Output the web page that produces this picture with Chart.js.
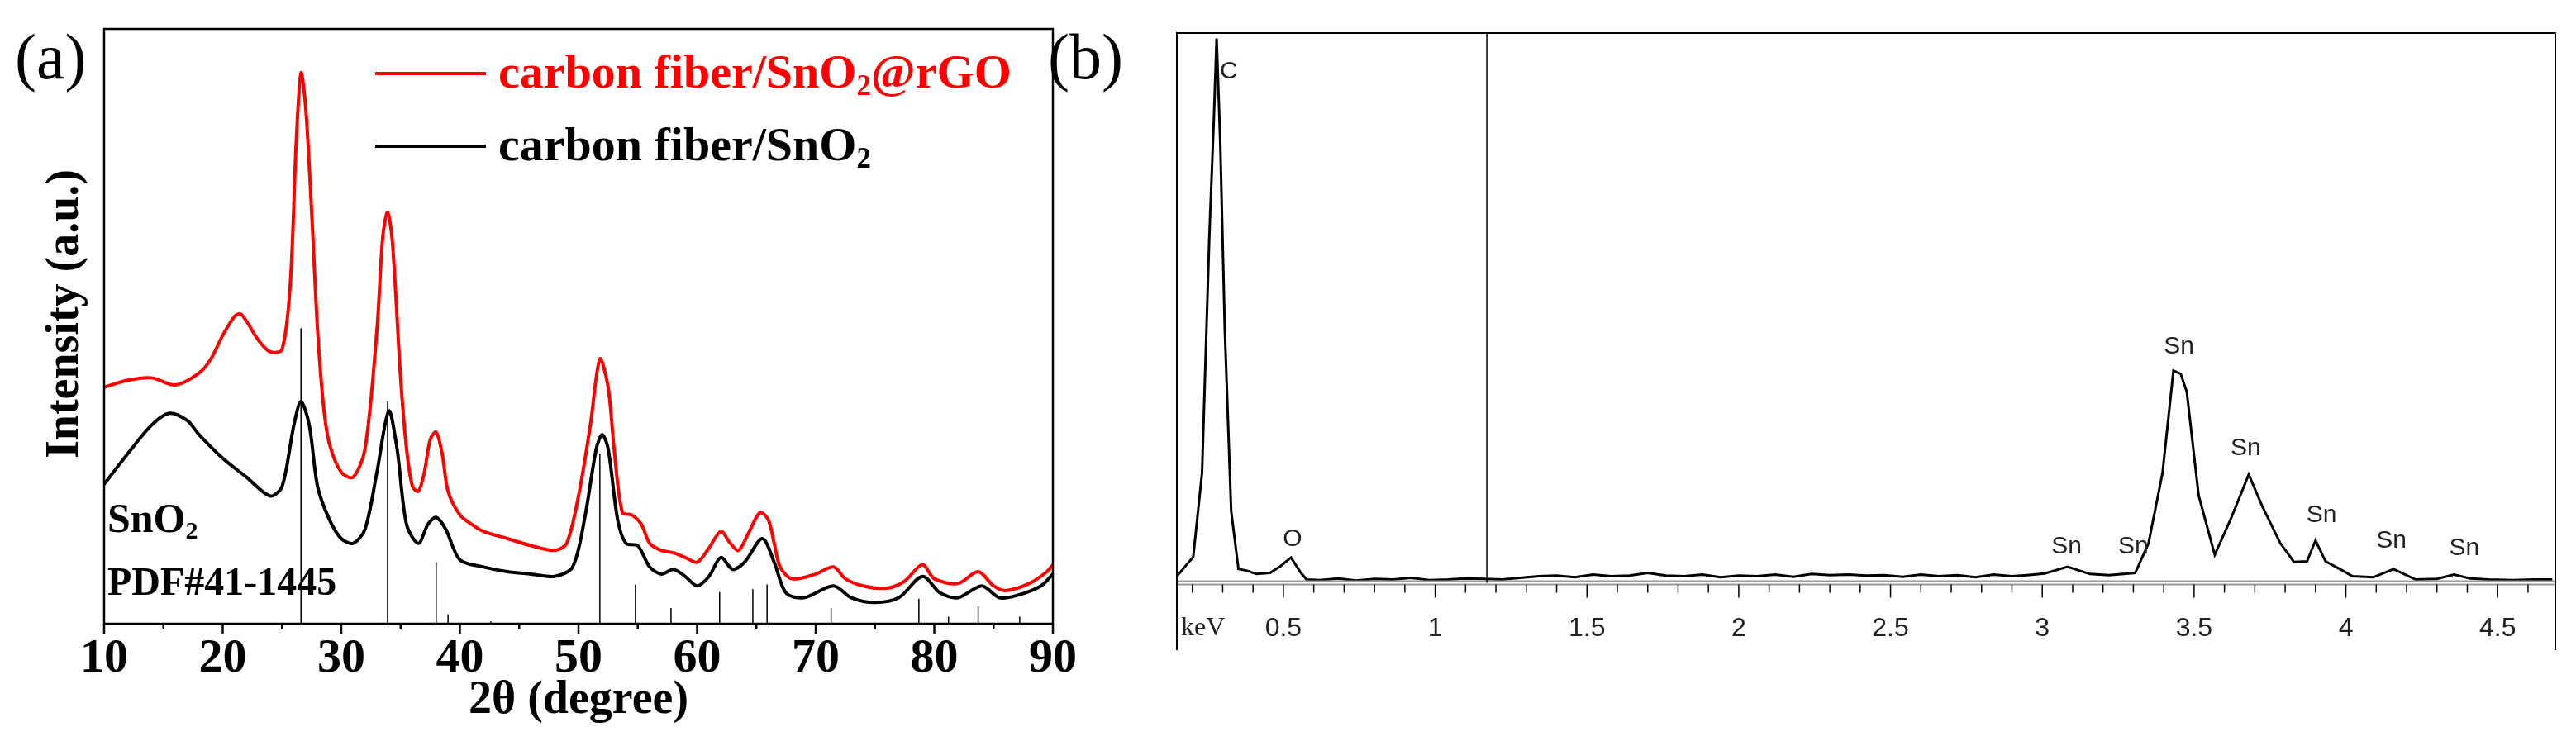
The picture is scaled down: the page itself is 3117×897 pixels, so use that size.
<!DOCTYPE html>
<html><head><meta charset="utf-8">
<script src="https://cdn.jsdelivr.net/npm/chart.js@4/dist/chart.umd.min.js"></script>
<style>
body{margin:0;width:3117px;height:897px;background:#fff;position:relative;overflow:hidden;font-family:"Liberation Serif",serif}
.c{position:absolute;top:0}
.t{position:absolute;white-space:nowrap;font-family:"Liberation Serif",serif;font-weight:bold;line-height:1}
.t sub{font-size:0.6em;vertical-align:-0.25em}
.l{position:absolute;height:4px;left:454px;width:134px}
</style></head><body>
<div class="c" style="left:0;width:1310px;height:897px"><canvas id="ca"></canvas></div>
<div class="c" style="left:1400px;width:1717px;height:897px"><canvas id="cb"></canvas></div>
<div class="t" style="left:18px;top:30px;font-size:78px;font-weight:normal">(a)</div>
<div class="t" style="left:1268px;top:30px;font-size:78px;font-weight:normal">(b)</div>
<div class="l" style="top:87px;background:#f00"></div>
<div class="l" style="top:175px;background:#000"></div>
<div class="t" style="left:603px;top:58px;font-size:58px;color:#f00">carbon fiber/SnO<sub>2</sub>@rGO</div>
<div class="t" style="left:603px;top:146px;font-size:58px;color:#000">carbon fiber/SnO<sub>2</sub></div>
<div class="t" style="left:130px;top:602px;font-size:50px">SnO<sub>2</sub></div>
<div class="t" style="left:130px;top:680px;font-size:48px">PDF#41-1445</div>
<script>
// Panel (a): XRD, intensity in arbitrary units
const xrdRedX=[10,12,14,16,18,19,20,21,21.5,22,23,24,25,25.7,26.2,26.6,27,27.5,28,28.5,29,30,31,32,33,33.5,33.9,34.3,35,35.5,36,36.5,37,37.5,38,38.5,39,40,41,42,44,46,48,49,50,51,51.8,52.5,53,53.7,54.5,55.3,56,57,58,59,60,61,62,62.8,63.5,64.3,65.3,66,66.5,67,68,70,71.5,72.5,74,76,77.5,79,80,82,83.7,85,86,88,89.5,90];
const xrdRedY=[500,515,520,505,530,560,610,650,655,640,600,575,580,720,1020,1165,1090,870,620,460,380,320,310,370,620,820,870,810,520,370,290,280,320,390,405,360,280,230,210,195,180,165,155,170,270,420,560,500,370,235,230,210,170,155,150,140,130,160,195,170,155,190,235,220,170,120,95,105,120,95,80,75,90,125,95,85,110,80,70,85,110,125];
const xrdBlkX=[10,12,14,15.5,17,18,20,22,24,25,26,26.6,27.3,28,29,30,31,32,33,34,34.7,35.5,36.5,37.3,38,38.8,40,42,44,46,48,49.5,50.5,51.5,52,52.5,53.3,54,55,56,57,58,59,60,61,62,63,64,65.5,66.5,67.5,69,71.5,73,75,77,79,80.5,82,84,85.5,87,89,90];
const xrdBlkY=[295,360,420,445,430,400,350,310,270,290,420,470,420,290,220,180,170,200,320,450,370,210,170,210,225,200,135,120,110,105,100,120,220,370,400,370,220,170,165,120,105,115,100,80,100,140,115,130,180,130,65,55,80,55,45,55,100,65,55,80,55,60,80,105];
const pdfPos=[26.6,33.9,38.0,39.0,42.6,51.8,54.8,57.8,61.9,64.7,65.9,71.3,78.7,81.2,83.7,87.2];
const pdfInt=[625,470,130,20,5,360,83,33,67,73,83,33,53,15,37,15];
const xrdTicks=[10,20,30,40,50,60,70,80,90];
// Panel (b): EDS spectrum
const edsX=[0.149,0.203,0.232,0.256,0.271,0.28,0.292,0.307,0.328,0.352,0.38,0.411,0.456,0.49,0.525,0.555,0.576,0.62,0.68,0.74,0.8,0.86,0.92,0.98,1.04,1.1,1.16,1.22,1.28,1.34,1.4,1.46,1.52,1.58,1.64,1.7,1.76,1.82,1.88,1.94,2.0,2.06,2.12,2.18,2.24,2.3,2.36,2.42,2.48,2.54,2.6,2.66,2.72,2.78,2.84,2.9,2.95,3.008,3.083,3.157,3.22,3.306,3.35,3.396,3.432,3.456,3.476,3.515,3.568,3.62,3.68,3.724,3.784,3.829,3.872,3.9,3.933,3.98,4.022,4.09,4.157,4.23,4.3,4.356,4.41,4.47,4.55,4.62,4.68];
const edsY=[1.2,4.7,20,63,84.5,99,80,46,13,2.5,2.2,1.6,1.8,3,4.6,2,0.6,0.5,0.8,0.4,0.7,0.6,0.9,0.5,0.6,0.8,0.7,0.6,0.9,1.2,1.3,1.0,1.5,1.2,1.3,1.8,1.3,1.2,1.5,1.0,1.3,1.2,1.5,1.1,1.6,1.4,1.5,1.3,1.4,1.1,1.5,1.2,1.4,1.0,1.5,1.2,1.4,1.7,2.9,1.6,1.4,1.8,7.2,20,38.6,38,34.7,15.9,5.1,11.5,19.7,14,7.2,3.8,3.9,7.7,3.9,2.5,1.2,1.0,2.5,0.6,0.7,1.5,0.8,0.6,0.5,0.6,0.6];
const edsTicks=[0.5,1,1.5,2,2.5,3,3.5,4,4.5];
const edsLabels=[{t:'C',x:0.32,y:93},{t:'O',x:0.53,y:8},{t:'Sn',x:3.08,y:6.6},{t:'Sn',x:3.30,y:6.6},{t:'Sn',x:3.45,y:43},{t:'Sn',x:3.67,y:24.5},{t:'Sn',x:3.92,y:12.3},{t:'Sn',x:4.15,y:7.7},{t:'Sn',x:4.39,y:6.3}];
const markerKeV=1.17;

const toXY=(xs,ys)=>xs.map((x,i)=>({x,y:ys[i]}));
const pdfData=[];pdfPos.forEach((p,i)=>{pdfData.push({x:p,y:0},{x:p,y:pdfInt[i]},{x:p,y:null});});

const axA={id:'axA',afterDraw(ch){const c=ch.ctx,a=ch.chartArea,xs=ch.scales.x;c.save();c.strokeStyle='#000';c.lineWidth=2.5;c.strokeRect(a.left,a.top,a.right-a.left,a.bottom-a.top);
c.fillStyle='#000';c.font='bold 58px "Liberation Serif"';c.textAlign='center';c.textBaseline='top';
for(let v=10;v<=90;v+=5){const px=xs.getPixelForValue(v);c.beginPath();c.moveTo(px,a.bottom);c.lineTo(px,a.bottom+(v%10===0?12:7));c.stroke();}
xrdTicks.forEach(v=>{c.fillText(String(v),xs.getPixelForValue(v),a.bottom+14);});
c.font='bold 56px "Liberation Serif"';c.fillText('2θ (degree)',(a.left+a.right)/2,a.bottom+66);
c.translate(80,(a.top+a.bottom)/2-15);c.rotate(-Math.PI/2);c.textBaseline='middle';c.font='bold 56px "Liberation Serif"';c.fillText('Intensity (a.u.)',0,0);
c.restore();}};
new Chart(document.getElementById('ca'),{type:'line',data:{datasets:[
{data:toXY(xrdRedX,xrdRedY),borderColor:'#f00',borderWidth:4,pointRadius:0,tension:0.3},
{data:toXY(xrdBlkX,xrdBlkY),borderColor:'#000',borderWidth:4,pointRadius:0,tension:0.3},
{data:pdfData,borderColor:'#000',borderWidth:1.5,pointRadius:0,spanGaps:false}]},
options:{responsive:true,maintainAspectRatio:false,animation:false,layout:{padding:{left:126,right:36,top:35,bottom:142}},
plugins:{legend:{display:false},tooltip:{enabled:false}},
scales:{x:{type:'linear',min:10,max:90,display:false},y:{min:0,max:1258,display:false}}},plugins:[axA]});

const axB={id:'axB',afterDraw(ch){const c=ch.ctx,a=ch.chartArea,xs=ch.scales.x,ys=ch.scales.y;c.save();
const by=ys.getPixelForValue(0);
c.strokeStyle='#999';c.lineWidth=2;c.beginPath();c.moveTo(a.left,by-2);c.lineTo(a.right,by-2);c.moveTo(a.left,by+2);c.lineTo(a.right,by+2);c.stroke();
c.strokeStyle='#000';c.lineWidth=2;c.beginPath();c.moveTo(a.left,a.bottom);c.lineTo(a.left,a.top);c.lineTo(a.right,a.top);c.lineTo(a.right,a.bottom);c.stroke();
const mx=xs.getPixelForValue(markerKeV);c.lineWidth=1.5;c.beginPath();c.moveTo(mx,a.top);c.lineTo(mx,by);c.stroke();
c.lineWidth=1.5;for(let k=2;k<=46;k++){const v=k/10,px=xs.getPixelForValue(v);c.beginPath();c.moveTo(px,by+2);c.lineTo(px,by+(k%5===0?18:12));c.stroke();}
c.fillStyle='#222';c.font='32px "Liberation Sans"';c.textAlign='center';c.textBaseline='middle';
edsTicks.forEach(v=>c.fillText(String(v),xs.getPixelForValue(v),761));
c.font='32px "Liberation Serif"';c.textAlign='left';c.fillText('keV',a.left+5,761);
c.font='30px "Liberation Sans"';c.textAlign='center';
edsLabels.forEach(l=>c.fillText(l.t,xs.getPixelForValue(l.x),ys.getPixelForValue(l.y)));
c.restore();}};
new Chart(document.getElementById('cb'),{type:'line',data:{datasets:[
{data:toXY(edsX,edsY),borderColor:'#000',borderWidth:3,pointRadius:0,tension:0}]},
options:{responsive:true,maintainAspectRatio:false,animation:false,layout:{padding:{left:24,right:25,top:40,bottom:110}},
plugins:{legend:{display:false},tooltip:{enabled:false}},
scales:{x:{type:'linear',min:0.149,max:4.69,display:false},y:{min:-12.25,max:100,display:false}}},plugins:[axB]});
</script></body></html>
